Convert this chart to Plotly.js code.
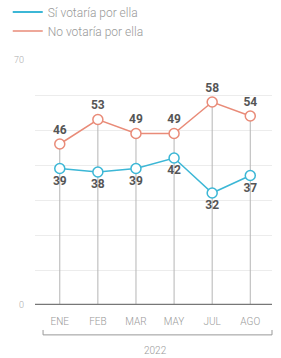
<!DOCTYPE html>
<html><head><meta charset="utf-8">
<script src="https://cdn.plot.ly/plotly-3.0.1.min.js"></script>
<style>html,body{margin:0;padding:0;background:#fff}#c{width:281px;height:358px}</style>
</head><body><div id="c"></div>
<script>
const months = ["ENE","FEB","MAR","MAY","JUL","AGO"];
const siVotaria = [39,38,39,42,32,37];
const noVotaria = [46,53,49,49,58,54];
const yearLabel = "2022";
const nameSi = "Sí votaría por ella";
const nameNo = "No votaría por ella";

const blue = "#3cb7d6", red = "#e98b78";
const dropX = [], dropY = [];
months.forEach((m,i)=>{dropX.push(m,m,null);dropY.push(0,Math.max(siVotaria[i],noVotaria[i]),null);});

const traces = [
 {x:dropX,y:dropY,mode:"lines",line:{color:"#b5b5b5",width:1},showlegend:false,hoverinfo:"skip"},
 {x:months,y:noVotaria,mode:"lines+markers+text",text:noVotaria.map(String),textposition:"top center",
  textfont:{family:"Roboto, sans-serif",size:12,color:"#555",weight:700},
  line:{color:red,width:1.5},marker:{symbol:"circle",size:10,color:"#fff",line:{color:red,width:1.5}},showlegend:false},
 {x:months,y:siVotaria,mode:"lines+markers+text",text:siVotaria.map(String),textposition:"bottom center",
  textfont:{family:"Roboto, sans-serif",size:12,color:"#555",weight:700},
  line:{color:blue,width:1.5},marker:{symbol:"circle",size:10,color:"#fff",line:{color:blue,width:1.5}},showlegend:false},
 {x:[null],y:[null],mode:"lines",name:nameSi,line:{color:blue,width:2}},
 {x:[null],y:[null],mode:"lines",name:nameNo,line:{color:red,width:1.5}}
];
const tv=[0,10,20,30,40,50,60,70];
const layout = {
 width:281,height:358,margin:{l:35,r:9,t:60,b:53,autoexpand:false},
 paper_bgcolor:"#fff",plot_bgcolor:"#fff",
 font:{family:"Roboto, sans-serif",color:"#999",size:11},
 showlegend:true,
 legend:{x:-0.115,y:1.255,xanchor:"left",yanchor:"top",
   font:{size:12,color:"#999",weight:300},tracegroupgap:0,itemwidth:30,bgcolor:"rgba(0,0,0,0)"},
 xaxis:{type:"category",categoryarray:months,range:[-0.65,5.57],autorange:false,showgrid:false,zeroline:false,showline:false,
   tickfont:{size:10,color:"#999",weight:300},ticks:"",tickangle:0,automargin:false,fixedrange:true,ticklabelstandoff:9},
 yaxis:{range:[0,70],autorange:false,tickvals:tv,ticktext:tv.map(v=>(v===0||v===70)?String(v):""),
   showgrid:true,gridcolor:"#ececec",gridwidth:1,zeroline:false,showline:false,ticks:"",automargin:false,
   tickfont:{size:9,color:"#aaa",weight:300},ticklabelstandoff:10},
 shapes:[
  {type:"line",xref:"paper",yref:"y",x0:0,x1:1,y0:0,y1:0,line:{color:"#777",width:2.5}},
  {type:"path",xref:"paper",yref:"paper",path:"M 0.034 -0.102 L 0.034 -0.122 L 1 -0.122 L 1 -0.102",line:{color:"#999",width:1}}
 ],
 annotations:[{xref:"paper",yref:"paper",x:0.51,y:-0.184,yanchor:"middle",showarrow:false,text:yearLabel,font:{size:10,color:"#999",weight:300}}]
};
Plotly.newPlot("c",traces,layout,{displayModeBar:false,staticPlot:true});
</script></body></html>
